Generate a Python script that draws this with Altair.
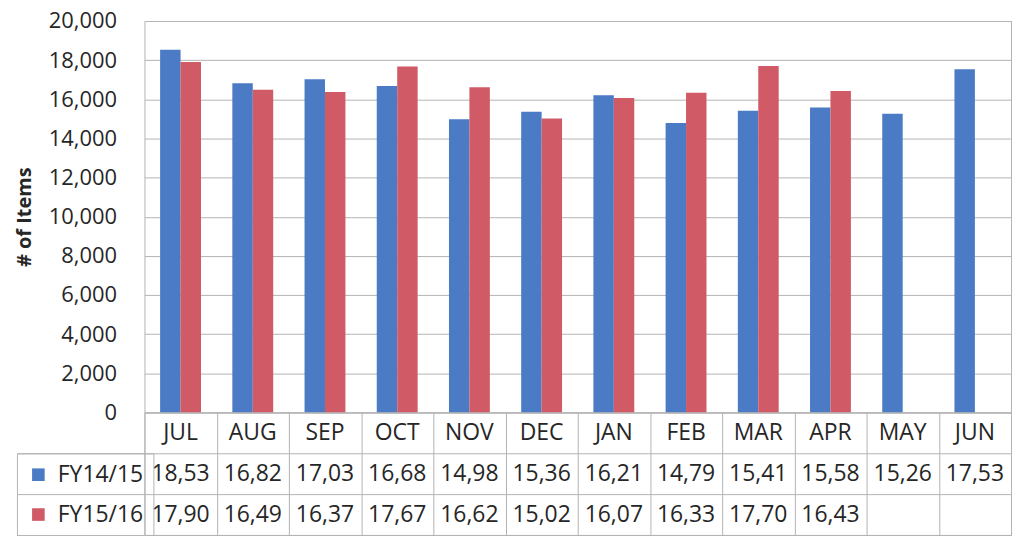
import altair as alt
import pandas as pd

months = ["JUL", "AUG", "SEP", "OCT", "NOV", "DEC", "JAN", "FEB", "MAR", "APR", "MAY", "JUN"]
series = ["FY14/15", "FY15/16"]
fy1415 = [18530, 16820, 17030, 16680, 14980, 15360, 16210, 14790, 15410, 15580, 15260, 17530]
fy1516 = [17900, 16490, 16370, 17670, 16620, 15020, 16070, 16330, 17700, 16430, None, None]
colors = ["#4a7bc4", "#d05a66"]
y_ticks = list(range(0, 20001, 2000))
table_rows = ["hdr"] + series

FONT = "Open Sans"
TXT = "#262626"
GRID = "#b3b3b3"

rows = []
for s, vals in zip(series, [fy1415, fy1516]):
    for m, v in zip(months, vals):
        if v is not None:
            rows.append({"month": m, "series": s, "value": v})
bars_df = pd.DataFrame(rows)

trows = [{"row": "hdr", "month": m, "text": m} for m in months]
for s, vals in zip(series, [fy1415, fy1516]):
    for m, v in zip(months, vals):
        trows.append({"row": s, "month": m, "text": "" if v is None else f"{v:,}"[:5]})
table_df = pd.DataFrame(trows)

xscale = alt.Scale(domain=months, paddingInner=0.434, paddingOuter=0.217)

bars = alt.Chart(bars_df).mark_bar().encode(
    x=alt.X("month:N", sort=months, scale=xscale, axis=None),
    xOffset=alt.XOffset("series:N", sort=series),
    y=alt.Y("value:Q", scale=alt.Scale(domain=[0, 20000], nice=False),
            axis=alt.Axis(values=y_ticks, format=",.0f", title="# of Items",
                          labelFontSize=22, labelFont=FONT, labelColor=TXT,
                          labelPadding=28, ticks=False, domain=False,
                          gridColor=GRID, titleFont=FONT, titleFontSize=20,
                          titleFontWeight="bold", titleColor=TXT, titlePadding=14)),
    color=alt.Color("series:N", sort=series,
                    scale=alt.Scale(domain=series, range=colors),
                    legend=alt.Legend(title=None, orient="none", legendX=-128, legendY=434,
                                      symbolType="square", symbolSize=160,
                                      symbolStrokeWidth=0, labelFont=FONT,
                                      labelFontSize=23, labelColor=TXT, rowPadding=16,
                                      labelOffset=8, padding=10, strokeColor=GRID)),
).properties(width=870, height=393)

table = alt.Chart(table_df).transform_calculate(
    ry="indexof(" + str(table_rows) + ", datum.row) + 0.5"
).mark_text(font=FONT, fontSize=23, color=TXT).encode(
    x=alt.X("month:N", sort=months, scale=alt.Scale(domain=months, paddingInner=0, paddingOuter=0),
            axis=alt.Axis(labels=False, ticks=False, domain=False, title=None, grid=True,
                          tickBand="extent", gridColor=GRID)),
    y=alt.Y("ry:Q", scale=alt.Scale(domain=[0, len(table_rows)], reverse=True, nice=False),
            axis=alt.Axis(labels=False, title=None, domain=False, grid=True,
                          values=[1, 2, 3], gridColor=GRID, ticks=True, tickSize=128,
                          tickColor=GRID)),
    text="text:N",
).properties(width=870, height=123)

chart = alt.vconcat(bars, table, spacing=0, bounds="flush").properties(
    padding={"left": 5, "top": 0, "right": 0, "bottom": 0}
).configure_view(stroke=GRID).configure_scale(offsetBandPaddingInner=0)

chart.save("out.html", embed_options={"renderer": "svg", "actions": False})
